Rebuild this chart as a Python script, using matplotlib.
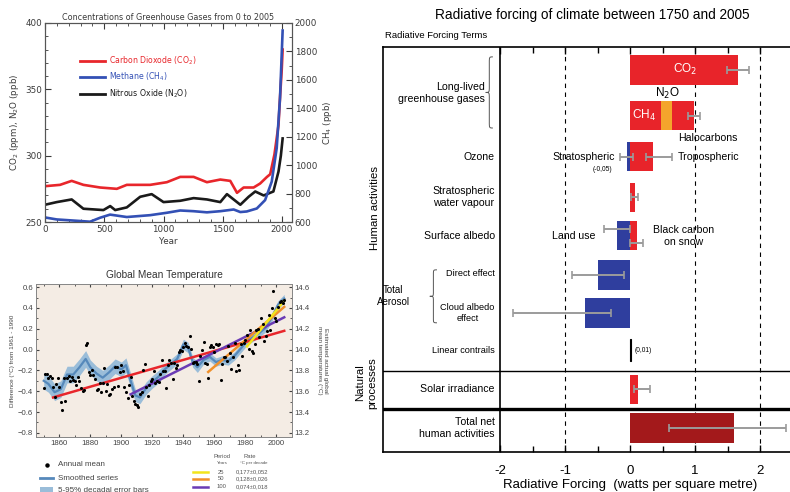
import numpy as np
import matplotlib
matplotlib.use('Agg')
import matplotlib.pyplot as plt
from matplotlib.lines import Line2D
from matplotlib.patches import Rectangle, PathPatch
from matplotlib.path import Path
from matplotlib.ticker import MultipleLocator, FixedLocator

plt.rcParams['font.family'] = ['Liberation Sans', 'DejaVu Sans']

W, H = 790, 492


def box(l, t, r, b):
    # pixel box -> figure fraction
    return [l / W, 1 - b / H, (r - l) / W, (b - t) / H]


def fx(x):
    return x / W


def fy(y):
    return 1 - y / H


# ---------------- data: greenhouse gases 0-2005 ----------------
co2_years = [0, 127, 225, 324, 465, 606, 690, 887, 1028, 1141, 1254, 1366, 1479, 1563,
             1620, 1676, 1760, 1815, 1873, 1900, 1936, 1970, 1983, 1997, 2005]
co2_ppm = [277, 278, 281, 278, 276, 275, 278, 278, 280, 284, 284, 280, 282, 281,
           272, 276, 276, 279, 284, 286, 301, 323, 344, 364, 380]

ch4_years = [0, 99, 296, 380, 465, 549, 690, 887, 1028, 1141, 1254, 1366, 1479, 1592,
             1648, 1702, 1787, 1857, 1913, 1955, 1983, 2005]
ch4_ppb = [632, 618, 607, 602, 630, 652, 635, 648, 665, 681, 676, 668, 676, 688,
           670, 674, 695, 754, 884, 1120, 1475, 1947]

n2o_years = [0, 99, 225, 324, 493, 550, 592, 690, 803, 900, 1000, 1141, 1254, 1366,
             1479, 1535, 1648, 1718, 1774, 1845, 1927, 1970, 1990, 2005]
n2o_ppb = [263, 265, 267, 260, 259, 262, 259, 261, 269, 271, 265, 266, 268, 267,
           265, 271, 263, 269, 273, 270, 273, 288, 300, 313]

# ---------------- data: global mean temperature ----------------
temp_years = list(range(1850, 2006))
temp_anom = [
    -0.37, -0.23, -0.23, -0.27, -0.25, -0.27, -0.36, -0.46, -0.33, -0.27,
    -0.36, -0.50, -0.58, -0.27, -0.49, -0.27, -0.25, -0.30, -0.26, -0.29,
    -0.30, -0.34, -0.26, -0.30, -0.37, -0.40, -0.39, 0.04, 0.06, -0.22,
    -0.24, -0.20, -0.24, -0.28, -0.39, -0.38, -0.32, -0.41, -0.32, -0.18,
    -0.40, -0.33, -0.44, -0.43, -0.38, -0.36, -0.17, -0.17, -0.35, -0.22,
    -0.15, -0.21, -0.36, -0.41, -0.47, -0.34, -0.26, -0.45, -0.49, -0.52,
    -0.53, -0.55, -0.43, -0.41, -0.20, -0.14, -0.36, -0.45, -0.34, -0.30,
    -0.28, -0.21, -0.32, -0.30, -0.31, -0.23, -0.10, -0.21, -0.21, -0.37,
    -0.15, -0.10, -0.13, -0.28, -0.13, -0.18, -0.15, -0.02, 0.00, -0.01,
    0.02, 0.06, 0.03, 0.02, 0.13, 0.01, -0.13, -0.12, -0.12, -0.14,
    -0.30, -0.06, 0.00, 0.07, -0.13, -0.14, -0.27, 0.02, 0.04, 0.02,
    -0.02, 0.05, 0.04, 0.05, -0.29, -0.14, -0.07, -0.07, -0.11, 0.03,
    -0.03, -0.19, -0.07, 0.06, -0.21, -0.15, -0.20, 0.05, -0.06, 0.06,
    0.09, 0.14, 0.01, 0.19, -0.01, -0.03, 0.05, 0.19, 0.20, 0.12,
    0.30, 0.25, 0.08, 0.13, 0.18, 0.33, 0.19, 0.40, 0.56, 0.30,
    0.27, 0.41, 0.46, 0.47, 0.45, 0.48]

smooth_years = [1850, 1853, 1857, 1861, 1865, 1869, 1873, 1877, 1880, 1884, 1888, 1892,
                1896, 1900, 1903, 1906, 1909, 1912, 1916, 1920, 1924, 1928, 1932, 1936,
                1940, 1943, 1946, 1949, 1953, 1957, 1961, 1965, 1969, 1973, 1977, 1981,
                1985, 1989, 1993, 1997, 2001, 2005]
smooth_vals = [-0.30, -0.33, -0.41, -0.38, -0.24, -0.24, -0.17, -0.09, -0.17, -0.23, -0.27, -0.22,
               -0.16, -0.19, -0.15, -0.30, -0.44, -0.46, -0.37, -0.31, -0.26, -0.19, -0.14, -0.09,
               0.05, 0.02, -0.12, -0.17, -0.10, -0.07, -0.12, -0.10, -0.11, -0.06, 0.01, 0.08,
               0.12, 0.16, 0.21, 0.31, 0.43, 0.49]
smooth_err = [0.08, 0.08, 0.08, 0.08, 0.08, 0.08, 0.08, 0.08, 0.07, 0.07, 0.07, 0.07,
              0.07, 0.07, 0.07, 0.07, 0.06, 0.06, 0.06, 0.06, 0.06, 0.05, 0.05, 0.05,
              0.05, 0.05, 0.05, 0.05, 0.04, 0.04, 0.04, 0.04, 0.04, 0.04, 0.04, 0.04,
              0.04, 0.04, 0.04, 0.04, 0.04, 0.04]

trend_period = [150, 100, 50, 25]
trend_start = [1856, 1906, 1956, 1981]
trend_v0 = [-0.46, -0.43, -0.215, 0.03]
trend_v1 = [0.18, 0.31, 0.41, 0.47]
trend_color = ['#e8262b', '#6a3bb5', '#f0902a', '#f2e41c']
trend_rate = ['0,045±0,012', '0,074±0,018', '0,128±0,026', '0,177±0,052']

# ---------------- data: radiative forcing 1750-2005 ----------------
rf_terms = ['CO2', 'CH4', 'N2O', 'Halocarbons', 'Stratospheric ozone', 'Tropospheric ozone',
            'Stratospheric water vapour', 'Land use', 'Black carbon on snow', 'Direct effect',
            'Cloud albedo effect', 'Linear contrails', 'Solar irradiance', 'Total net human activities']
rf_value = [1.66, 0.48, 0.16, 0.34, -0.05, 0.35, 0.07, -0.20, 0.10, -0.50, -0.70, 0.01, 0.12, 1.60]
rf_err_lo = [1.49, np.nan, np.nan, 0.89, -0.15, 0.25, 0.02, -0.40, 0.00, -0.90, -1.80, np.nan, 0.06, 0.60]
rf_err_hi = [1.83, np.nan, np.nan, 1.07, 0.05, 0.65, 0.12, 0.00, 0.20, -0.10, -0.30, np.nan, 0.30, 2.40]
rf_stacked = [False, False, True, True, False, False, False, False, False, False, False, False, False, False]

# layout for the forcing rows (row units, top = 0)
rf_row = [0, 1.16, 1.16, 1.16, 2.2, 2.2, 3.22, 4.2, 4.2, 5.19, 6.15, 7.09, 8.08, 9.06]
rf_err_off = [0, 0, 0, 0, 0, 0, 0, -0.18, 0.18, 0, 0, 0, 0, 0]
RED, BLUE, ORANGE, DARKRED = '#e8242a', '#2f3e9e', '#f4a52c', '#a3191b'
rf_color = [RED, RED, ORANGE, RED, BLUE, RED, RED, BLUE, RED, BLUE, BLUE, 'black', RED, DARKRED]

fig = plt.figure(figsize=(W / 100, H / 100), dpi=100)

# ================= top-left: greenhouse gas concentrations =================
ink = '#3a3a3a'
ax1 = fig.add_axes(box(45, 23, 292, 222))
ax1.plot(n2o_years, n2o_ppb, color='#1a1a1a', lw=1.9)
ax1.plot(co2_years, co2_ppm, color='#e8262b', lw=1.9)
ax1.set_xlim(0, 2084)
ax1.set_ylim(250, 400)
ax1.xaxis.set_major_locator(MultipleLocator(500))
ax1.xaxis.set_minor_locator(MultipleLocator(100))
ax1.yaxis.set_major_locator(MultipleLocator(50))
ax1.yaxis.set_minor_locator(MultipleLocator(10))
ax1.tick_params(which='both', direction='in', top=True, labelsize=6.3, colors=ink, pad=2)
ax1.tick_params(which='major', length=4)
ax1.tick_params(which='minor', length=2)
ax1.set_xlabel('Year', fontsize=6.3, color=ink, family='DejaVu Sans', labelpad=2)
ax1.set_ylabel('CO$_2$ (ppm), N$_2$O (ppb)', fontsize=6.3, color=ink, family='DejaVu Sans', labelpad=3)
ax1.set_title('Concentrations of Greenhouse Gases from 0 to 2005', fontsize=5.8, color=ink,
              family='DejaVu Sans', pad=2)
ax1r = ax1.twinx()
ax1r.plot(ch4_years, ch4_ppb, color='#3350b5', lw=1.9)
ax1r.set_ylim(600, 2000)
ax1r.yaxis.set_major_locator(MultipleLocator(200))
ax1r.yaxis.set_minor_locator(MultipleLocator(100))
ax1r.tick_params(which='both', direction='in', labelsize=6.3, colors=ink, pad=2)
ax1r.tick_params(which='major', length=4)
ax1r.tick_params(which='minor', length=2)
ax1r.set_ylabel('CH$_4$ (ppb)', fontsize=6.3, color=ink, family='DejaVu Sans', labelpad=3)
for a in (ax1, ax1r):
    for lab in a.get_xticklabels() + a.get_yticklabels():
        lab.set_family('DejaVu Sans')
    for s in a.spines.values():
        s.set_color('#555555')
        s.set_linewidth(0.8)

gas_names = ['Carbon Dioxode (CO$_2$)', 'Methane (CH$_4$)', 'Nitrous Oxide (N$_2$O)']
gas_colors = ['#e8262b', '#3350b5', '#1a1a1a']
for i, (name, col) in enumerate(zip(gas_names, gas_colors)):
    yy = [0.809, 0.729, 0.643][i]
    ax1.plot([0.142, 0.243], [yy, yy], color=col, lw=2, transform=ax1.transAxes)
    ax1.text(0.258, yy, name, color=col, fontsize=5.6, family='DejaVu Sans',
             va='center', transform=ax1.transAxes)

# ================= bottom-left: global mean temperature =================
ax2 = fig.add_axes(box(36, 284, 292, 437))
ax2.set_facecolor('#f4ece4')
lo = np.array(smooth_vals) - np.array(smooth_err)
hi = np.array(smooth_vals) + np.array(smooth_err)
ax2.fill_between(smooth_years, lo, hi, color='#9abdd9', lw=0, zorder=1)
ax2.plot(smooth_years, smooth_vals, color='#5689bb', lw=1.6, zorder=2)
for p, t0, v0, v1, c in zip(trend_period, trend_start, trend_v0, trend_v1, trend_color):
    ax2.plot([t0, 2005], [v0, v1], color=c, lw=1.8, zorder=3)
ax2.scatter(temp_years, temp_anom, s=5, color='black', lw=0, zorder=4)
ax2.set_xlim(1845, 2010)
ax2.set_ylim(-0.84, 0.63)
ax2.xaxis.set_minor_locator(MultipleLocator(10))
ax2.set_xticks(range(1860, 2001, 20))
ax2.yaxis.set_minor_locator(MultipleLocator(0.1))
ax2.set_yticks([-0.8, -0.6, -0.4, -0.2, 0.0, 0.2, 0.4, 0.6])
ax2.tick_params(which='both', direction='in', top=True, labelsize=5.6, colors='#444444', pad=2)
ax2.tick_params(which='major', length=2.5)
ax2.tick_params(which='minor', length=1.5)
ax2.set_ylabel('Difference (°C) from 1961 - 1990', fontsize=4.6, color='#444444', labelpad=2)
ax2.set_title('Global Mean Temperature', fontsize=7.3, color='#333333', pad=4)
ax2r = ax2.twinx()
ax2r.set_ylim(-0.84 + 14.0, 0.63 + 14.0)
ax2r.set_yticks([13.2, 13.4, 13.6, 13.8, 14.0, 14.2, 14.4, 14.6])
ax2r.yaxis.set_minor_locator(MultipleLocator(0.1))
ax2r.tick_params(which='both', direction='in', labelsize=5.6, colors='#444444', pad=2)
ax2r.tick_params(which='major', length=2.5)
ax2r.tick_params(which='minor', length=1.5)
ax2r.set_ylabel('Estimated actual global\nmean temperatures (°C)', fontsize=4.6, color='#444444',
                rotation=270, labelpad=13)
for a in (ax2, ax2r):
    for s in a.spines.values():
        s.set_color('#888888')
        s.set_linewidth(0.7)

# legend below the temperature panel
fig.add_artist(Line2D([fx(47)], [fy(465)], marker='o', ms=2.2, color='black', lw=0))
fig.text(fx(58), fy(465), 'Annual mean', fontsize=5.8, color='#444444', va='center')
fig.add_artist(Line2D([fx(40), fx(53)], [fy(478), fy(478)], color='#5689bb', lw=2))
fig.text(fx(58), fy(478), 'Smoothed series', fontsize=5.8, color='#444444', va='center')
fig.add_artist(Rectangle((fx(40), fy(493)), fx(13), 6 / H, color='#9abdd9', lw=0))
fig.text(fx(58), fy(490), '5-95% decadal error bars', fontsize=5.8, color='#444444', va='center')
fig.text(fx(222), fy(457), 'Period', fontsize=4.2, color='#555555', ha='center', va='center')
fig.text(fx(222), fy(463), 'Years', fontsize=3.2, color='#555555', ha='center', va='center')
fig.text(fx(250), fy(457), 'Rate', fontsize=4.2, color='#555555', ha='center', va='center')
fig.text(fx(254), fy(463), '°C per decade', fontsize=3.2, color='#555555', ha='center', va='center')
for k, yy in zip([3, 2, 1], [472, 479, 487]):
    fig.add_artist(Line2D([fx(193), fx(208)], [fy(yy), fy(yy)], color=trend_color[k], lw=1.8))
    fig.text(fx(221), fy(yy), str(trend_period[k]), fontsize=4.2, color='#555555',
             ha='center', va='center')
    fig.text(fx(236), fy(yy), trend_rate[k], fontsize=4.2, color='#555555', va='center')

# ================= right: radiative forcing =================
ax3 = fig.add_axes(box(383, 47, 790, 452))
ax3.set_xlim(-3.8, 2.46)
ax3.set_ylim(9.67, -0.58)
bar_h = 0.74
left_acc = 0.0
for i, term in enumerate(rf_terms):
    left = left_acc if rf_stacked[i] else 0.0
    val = rf_value[i]
    if term == 'Linear contrails':
        ax3.barh(rf_row[i], val, left=left, height=0.55, color='black', edgecolor='black', lw=0.8)
    else:
        ax3.barh(rf_row[i], val, left=left, height=bar_h, color=rf_color[i], lw=0, zorder=2)
    left_acc = left + val
    if not np.isnan(rf_err_lo[i]):
        end = left + val
        ax3.errorbar(end, rf_row[i] + rf_err_off[i],
                     xerr=[[end - rf_err_lo[i]], [rf_err_hi[i] - end]],
                     fmt='none', ecolor='#9b9b9b', elinewidth=1.4, capsize=2.6, capthick=1.2, zorder=3)

for v in (-1, 1, 2):
    ax3.axvline(v, color='black', lw=0.8, ls=(0, (4, 4)), zorder=1)
ax3.axvline(-2, color='black', lw=1.2, zorder=4)
ax3.axhline(7.62, color='black', lw=1.0)
ax3.axhline(8.58, color='black', lw=2.4)
ax3.spines['right'].set_visible(False)
for s in ('left', 'top', 'bottom'):
    ax3.spines[s].set_linewidth(1.2)
ax3.xaxis.set_major_locator(FixedLocator([-2, -1, 0, 1, 2]))
ax3.xaxis.set_minor_locator(FixedLocator([-1.5, -0.5, 0.5, 1.5]))
ax3.set_xticklabels(['-2', '-1', '0', '1', '2'])
ax3.set_yticks([])
ax3.tick_params(axis='x', which='both', direction='in', top=True, labelsize=9.5, pad=9)
ax3.tick_params(axis='x', which='major', length=5, width=1)
ax3.tick_params(axis='x', which='minor', length=4, width=1)


def brace(ax, x_right, x_tip, y0, y1, q=0.15):
    xm = (x_right + x_tip) / 2
    ym = (y0 + y1) / 2
    verts = [(x_right, y0), (xm, y0), (xm, y0), (xm, y0 + q), (xm, ym - q),
             (xm, ym), (xm, ym), (x_tip, ym), (xm, ym), (xm, ym), (xm, ym + q),
             (xm, y1 - q), (xm, y1), (xm, y1), (x_right, y1)]
    codes = [Path.MOVETO, Path.CURVE4, Path.CURVE4, Path.CURVE4, Path.LINETO,
             Path.CURVE4, Path.CURVE4, Path.CURVE4, Path.CURVE4, Path.CURVE4, Path.CURVE4,
             Path.LINETO, Path.CURVE4, Path.CURVE4, Path.CURVE4]
    ax.add_patch(PathPatch(Path(verts, codes), fill=False, lw=0.7, color='#555555'))


brace(ax3, -2.11, -2.22, -0.33, 1.47)
brace(ax3, -2.97, -3.08, 5.06, 6.40, q=0.12)

lab_x = -2.08
fs = 7.6
ax3.text(-2.24, 0.58, 'Long-lived\ngreenhouse gases', ha='right', va='center', fontsize=fs,
         multialignment='right')
ax3.text(lab_x, 2.2, 'Ozone', ha='right', va='center', fontsize=fs)
ax3.text(lab_x, 3.22, 'Stratospheric\nwater vapour', ha='right', va='center', fontsize=fs,
         multialignment='center')
ax3.text(lab_x, 4.2, 'Surface albedo', ha='right', va='center', fontsize=fs)
ax3.text(lab_x, 5.16, 'Direct effect', ha='right', va='center', fontsize=6.6)
ax3.text(lab_x, 6.15, 'Cloud albedo\neffect', ha='right', va='center', fontsize=6.6,
         multialignment='center')
ax3.text(-3.385, 5.72, 'Total\nAerosol', ha='right', va='center', fontsize=7.0,
         multialignment='center')
ax3.text(lab_x, 7.09, 'Linear contrails', ha='right', va='center', fontsize=6.6)
ax3.text(lab_x, 8.08, 'Solar irradiance', ha='right', va='center', fontsize=fs)
ax3.text(lab_x, 9.06, 'Total net\nhuman activities', ha='right', va='center', fontsize=fs,
         multialignment='right')

ax3.text(0.85, 0, 'CO$_2$', color='white', ha='center', va='center', fontsize=8.5)
ax3.text(0.22, 1.16, 'CH$_4$', color='white', ha='center', va='center', fontsize=8.5)
ax3.text(0.57, 0.6, 'N$_2$O', color='black', ha='center', va='center', fontsize=8.5)
ax3.text(1.2, 1.72, 'Halocarbons', ha='center', va='center', fontsize=fs)
ax3.text(-0.24, 2.2, 'Stratospheric', ha='right', va='center', fontsize=fs)
ax3.text(-0.43, 2.53, '(-0,05)', ha='center', va='center', fontsize=4.8)
ax3.text(0.74, 2.2, 'Tropospheric', ha='left', va='center', fontsize=fs)
ax3.text(-0.53, 4.2, 'Land use', ha='right', va='center', fontsize=fs)
ax3.text(0.82, 4.2, 'Black carbon\non snow', ha='center', va='center', fontsize=fs,
         multialignment='center')
ax3.text(0.07, 7.09, '(0,01)', ha='left', va='center', fontsize=4.8)

fig.text(fx(592), fy(15), 'Radiative forcing of climate between 1750 and 2005', fontsize=9.8,
         ha='center', va='center')
fig.text(fx(385), fy(35), 'Radiative Forcing Terms', fontsize=6.8, ha='left', va='center')
fig.text(fx(630), fy(485), 'Radiative Forcing  (watts per square metre)', fontsize=9.5,
         ha='center', va='center')
fig.text(fx(375), fy(208), 'Human activities', fontsize=8.2, rotation=90, ha='center', va='center')
fig.text(fx(366), fy(383), 'Natural\nprocesses', fontsize=8.2, rotation=90, ha='center', va='center',
         multialignment='center')

fig.savefig('out.png', dpi=100)
